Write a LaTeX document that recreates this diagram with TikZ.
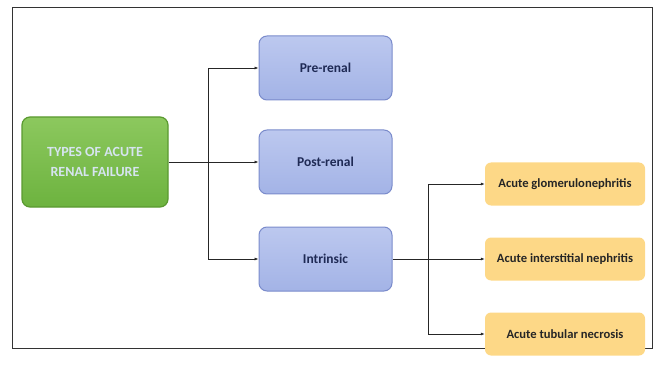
\documentclass[tikz,border=0pt]{standalone}
\usepackage{fontspec}
\setmainfont{Carlito}
\usetikzlibrary{arrows.meta}
\definecolor{gfill}{HTML}{6DB33F}
\definecolor{gtop}{HTML}{8CC85E}
\definecolor{gdraw}{HTML}{5A9A30}
\definecolor{gtext}{HTML}{D6E4F0}
\definecolor{bfill}{HTML}{A3B3E6}
\definecolor{btop}{HTML}{BCC8EF}
\definecolor{bdraw}{HTML}{7A8BCB}
\definecolor{btext}{HTML}{1F2A55}
\definecolor{ofill}{HTML}{FDD887}
\begin{document}
\begin{tikzpicture}[x=1pt,y=-1pt,
  rootbox/.style={draw=gdraw,line width=1.2pt,rounded corners=8pt,top color=gtop,bottom color=gfill,minimum width=146pt,minimum height=90pt,align=center,text=gtext,font=\bfseries\fontsize{14}{20}\selectfont},
  typebox/.style={draw=bdraw,line width=1pt,rounded corners=8pt,top color=btop,bottom color=bfill,minimum width=133pt,minimum height=64pt,text=btext,font=\bfseries\fontsize{13.5}{16}\selectfont},
  subbox/.style={fill=ofill,rounded corners=6pt,minimum width=160pt,minimum height=43pt,text=black!85,font=\bfseries\fontsize{12.6}{14}\selectfont},
  conn/.style={draw=black!85,line width=0.7pt},
  arr/.style={conn,-{Latex[length=4pt,width=3pt]}}]
\useasboundingbox (0,0) rectangle (659,377);
\draw[black!80,line width=0.8pt] (12,7) rectangle (652,348);
\node[rootbox] (root) at (95,162) {TYPES OF ACUTE\\RENAL FAILURE};
\node[typebox] (pre) at (325.5,68) {Pre-renal};
\node[typebox] (post) at (325.5,162) {Post-renal};
\node[typebox] (intr) at (325.5,259) {Intrinsic};
\node[subbox] (glom) at (565,184) {Acute glomerulonephritis};
\node[subbox] (inter) at (565,259) {Acute interstitial nephritis};
\node[subbox] (tub) at (565,334) {Acute tubular necrosis};
\coordinate (j1) at (208,162);
\coordinate (j2) at (428,259);
\draw[conn] (root.east) -- (j1);
\draw[arr] (j1) |- (pre.west);
\draw[arr] (j1) |- (intr.west);
\draw[arr] (j1) -- (post.west);
\draw[conn] (intr.east) -- (j2);
\draw[arr] (j2) |- (glom.west);
\draw[arr] (j2) |- (tub.west);
\draw[arr] (j2) -- (inter.west);
\end{tikzpicture}
\end{document}
